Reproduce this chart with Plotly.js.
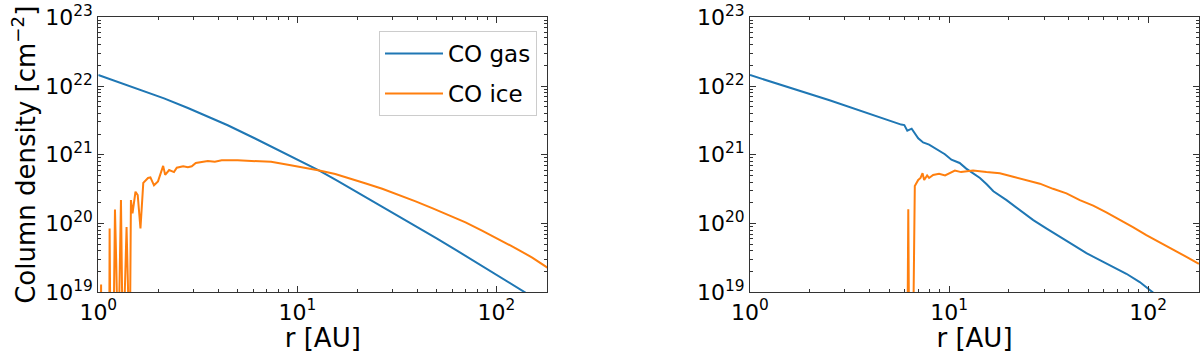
<!DOCTYPE html>
<html>
<head>
<meta charset="utf-8">
<script src="https://cdn.plot.ly/plotly-3.0.1.min.js"></script>
<style>
  html, body { margin: 0; padding: 0; background: #fff; }
  #chart { width: 1200px; height: 353px; }
</style>
</head>
<body>
<div id="chart"></div>
<script>
// left panel: CO gas
var gasLeftR = [1.0, 1.26, 1.585, 2.14, 2.82, 3.55, 4.47, 6.1, 7.41, 8.91, 10.7, 12.9, 15.85, 19.95, 25.1,
  31.6, 39.3, 50.1, 63.1, 79.4, 100, 117.5, 139.6, 182];
var gasLeftN = [1.445e22, 1.14e22, 8.98e21, 6.61e21, 4.79e21, 3.63e21, 2.69e21, 1.74e21, 1.32e21, 1.02e21, 7.76e20, 5.89e20, 4.22e20, 2.88e20, 1.95e20,
  1.35e20, 9.33e19, 6.1e19, 4.07e19, 2.72e19, 1.82e19, 1.36e19, 1.0e19, 6.2e18];

// left panel: CO ice
var iceLeftR = [1.028, 1.033, 1.038, 1.135, 1.14, 1.153, 1.189, 1.213, 1.23, 1.259, 1.30, 1.33, 1.387, 1.413,
  1.439, 1.459, 1.486, 1.538, 1.578, 1.629, 1.683, 1.778, 1.828, 1.905, 1.995, 2.118, 2.168, 2.27, 2.4, 2.48,
  2.67, 2.82, 2.95, 3.09, 3.55, 3.85, 4.17, 5.01, 6.1, 7.38, 9.12, 10.96, 12.9, 15.5, 18.2, 21.9, 26.7, 32.4,
  39.3, 47.9, 57.7, 70.0, 84.7, 102.3, 124.5, 151.4, 182];
var iceLeftN = [1e18, 1.3e19, 1e18, 1e18, 8.5e19, 1e18, 1e18, 1.6e20, 3e19, 1e18, 2.2e20, 1e18, 8.9e19, 1e18,
  1e18, 2.2e20, 1.4e20, 2.9e20, 2.6e20, 8.5e19, 3.9e20, 4.6e20, 4.7e20, 3.6e20, 4.1e20, 6.9e20, 5.1e20, 6.0e20, 5.6e20, 6.5e20,
  6.8e20, 6.6e20, 6.8e20, 7.6e20, 8.1e20, 7.9e20, 8.3e20, 8.3e20, 8.1e20, 7.9e20, 7.1e20, 6.5e20, 5.9e20, 5.25e20, 4.6e20, 3.85e20, 3.2e20, 2.6e20,
  2.1e20, 1.66e20, 1.32e20, 1.04e20, 7.9e19, 6.0e19, 4.4e19, 3.2e19, 2.25e19];

// right panel: CO gas
var gasRightR = [1.0, 2.51, 5.75, 5.96, 6.17, 6.31, 6.49, 7.0, 7.41, 7.94, 8.83, 9.53, 10.28, 11.3, 12.2, 13.2, 14.3,
  15.5, 16.7, 19.45, 22.7, 26.5, 30.8, 36.0, 42.0, 49.0, 57.1, 66.7, 77.8, 90.8, 107.9, 132];
var gasRightN = [1.445e22, 6.2e21, 2.75e21, 2.7e21, 2.24e21, 2.34e21, 2.4e21, 1.74e21, 1.51e21, 1.41e21, 1.15e21, 1.02e21, 8.5e20, 7.6e20, 6.3e20, 5.4e20, 4.6e20,
  3.7e20, 2.95e20, 2.19e20, 1.58e20, 1.12e20, 8.5e19, 6.5e19, 4.9e19, 3.7e19, 2.95e19, 2.34e19, 1.86e19, 1.41e19, 9.5e18, 6.3e18];

// right panel: CO ice
var iceRightR = [6.17, 6.24, 6.31, 6.58, 6.73, 7.0, 7.19, 7.36, 7.5, 7.76, 7.94, 8.32, 8.91, 9.55, 10.7, 11.5, 13.2,
  15.4, 18.0, 21.0, 24.5, 28.6, 33.3, 38.9, 45.4, 53.0, 61.7, 71.9, 83.9, 98.0, 114, 133, 155, 180];
var iceRightN = [1e18, 1.62e20, 1e18, 1e18, 3.5e20, 4.3e20, 4.6e20, 5.4e20, 4.3e20, 5.0e20, 4.6e20, 5.1e20, 5.3e20, 5.0e20, 5.9e20, 5.6e20, 5.9e20,
  5.6e20, 5.4e20, 4.8e20, 4.3e20, 3.8e20, 3.2e20, 2.75e20, 2.19e20, 1.82e20, 1.45e20, 1.15e20, 8.9e19, 6.8e19, 5.4e19, 4.2e19, 3.3e19, 2.6e19];

var xTickVals = [1, 10, 100];
var xTickText = ['10<sup>0</sup>', '10<sup>1</sup>', '10<sup>2</sup>'];
var xMinorVals = [2, 3, 4, 5, 6, 7, 8, 9, 20, 30, 40, 50, 60, 70, 80, 90];
var yTickVals = [1e19, 1e20, 1e21, 1e22, 1e23];
var yTickText = ['10<sup>19</sup>', '10<sup>20</sup>', '10<sup>21</sup>', '10<sup>22</sup>', '10<sup>23</sup>'];
var yMinorVals = [2e19, 3e19, 4e19, 5e19, 6e19, 7e19, 8e19, 9e19,
  2e20, 3e20, 4e20, 5e20, 6e20, 7e20, 8e20, 9e20,
  2e21, 3e21, 4e21, 5e21, 6e21, 7e21, 8e21, 9e21,
  2e22, 3e22, 4e22, 5e22, 6e22, 7e22, 8e22, 9e22];

var blue = '#1f77b4';
var orange = '#ff7f0e';
var axisColor = '#333';

var traces = [
  {x: gasLeftR, y: gasLeftN, type: 'scatter', mode: 'lines', name: 'CO gas', legendgroup: 'g',
   line: {color: blue, width: 2}, xaxis: 'x', yaxis: 'y'},
  {x: iceLeftR, y: iceLeftN, type: 'scatter', mode: 'lines', name: 'CO ice', legendgroup: 'i',
   line: {color: orange, width: 2}, xaxis: 'x', yaxis: 'y'},
  {x: gasRightR, y: gasRightN, type: 'scatter', mode: 'lines', name: 'CO gas', showlegend: false,
   line: {color: blue, width: 2}, xaxis: 'x2', yaxis: 'y2'},
  {x: iceRightR, y: iceRightN, type: 'scatter', mode: 'lines', name: 'CO ice', showlegend: false,
   line: {color: orange, width: 2}, xaxis: 'x2', yaxis: 'y2'}
];

function baseAxis(ax, minorVals) {
  ax.ticks = 'inside';
  ax.ticklen = 6;
  ax.tickcolor = axisColor;
  ax.minor = {tickmode: 'array', tickvals: minorVals, ticks: 'inside', ticklen: 3,
              tickcolor: axisColor, showgrid: false};
  ax.showline = true;
  ax.mirror = 'allticks';
  ax.linecolor = axisColor;
  ax.linewidth = 1;
  ax.showgrid = false;
  ax.zeroline = false;
  ax.automargin = false;
  ax.tickfont = {size: 22, color: '#000'};
  return ax;
}

function xAxis(domain, anchor) {
  return baseAxis({
    domain: domain, anchor: anchor, type: 'log', range: [0, 2.256],
    tickmode: 'array', tickvals: xTickVals, ticktext: xTickText,
    title: {text: 'r [AU]', font: {size: 26, color: '#000'}, standoff: 2}
  }, xMinorVals);
}

function yAxis(domain, anchor, titleText) {
  return baseAxis({
    domain: domain, anchor: anchor, type: 'log', range: [19, 23],
    tickmode: 'array', tickvals: yTickVals, ticktext: yTickText,
    title: {text: titleText, font: {size: 26, color: '#000'}, standoff: 2}
  }, yMinorVals);
}

var layout = {
  width: 1200, height: 353,
  margin: {l: 0, r: 0, t: 0, b: 0},
  paper_bgcolor: '#fff', plot_bgcolor: '#fff',
  font: {family: 'DejaVu Sans', size: 22, color: '#000'},
  xaxis: xAxis([0.0819, 0.4561], 'y'),
  yaxis: yAxis([0.172, 0.951], 'x', 'Column density [cm<sup>\u22122</sup>]'),
  xaxis2: xAxis([0.625, 0.9992], 'y2'),
  yaxis2: yAxis([0.172, 0.951], 'x2', ''),
  legend: {
    x: 0.4475, xanchor: 'right', y: 0.912, yanchor: 'top',
    bgcolor: '#fff', bordercolor: '#cccccc', borderwidth: 1,
    font: {size: 23, color: '#000'}, itemwidth: 58, tracegroupgap: 7
  },
  showlegend: true
};

Plotly.newPlot('chart', traces, layout, {staticPlot: true});
</script>
</body>
</html>
